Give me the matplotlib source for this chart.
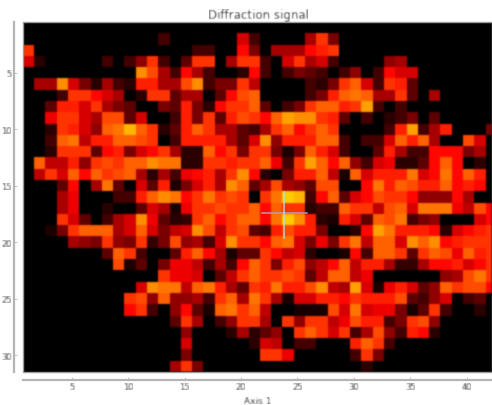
"""Diffraction signal heat map."""

import numpy as np
import matplotlib
matplotlib.use("Agg")
import matplotlib.pyplot as plt
from matplotlib.colors import PowerNorm
from matplotlib.patches import Rectangle

signal = [
    [0,0,0,0,0,0,0,0,0,0, 0,0,0,0,0,0,0,0,0,0, 0,0,0,0,0,0,0,0,0,0, 0,0,0,0,0,0,0,0,0,0, 0,0],
    [0,0,0,0,0,0,0,0,0,0, 0,0,1,0,0,0,0,0,0,4, 1,0,0,0,0,3,6,2,0,0, 0,0,0,0,0,0,0,0,0,0, 0,0],
    [6,0,0,0,0,0,0,0,0,0, 0,0,0,0,0,1,1,0,0,5, 2,0,3,3,3,5,5.5,6,0,0, 0,0,0,0,0,0,0,0,0,0, 0,0],
    [4,0.5,0,0,0,0,0,1,0,1, 2.5,6,1,0,1.5,6,6,0,3,6, 6,1,0,4,6,3,4,1,0,0, 0,0,2.5,3,0,0,0,0,0,0, 0,0],
    [0,0,0,0,0,0,0,0,0,0, 8,6.5,3,1,5,3,1,0,0,0.5, 5,1,0,1,2,1.5,1,0,1,2.5, 0,1,5,4,4,0,0,0,0,0, 0,0],
    [0,3,3,8,4,2,0.5,3,1,0.5, 5.5,5.5,3,3,6.5,8,1,2,2,6, 3.5,0,0,0,0,1,0.5,2,6,7, 4,1,6,5.5,1.5,0,0,0,0,0, 0,0],
    [0,0,0,1,6,6,5,4,3,0, 0.5,6,6,1.5,3,3,0,1.5,5,6.5, 7,0,0,0,0,1,2,5.5,7,7.5, 7,3,3,6,1.5,0,3,0,0,0, 0,0],
    [0,0,1.5,5.5,5.5,4,6,3,2,1.5, 0,0,2,1.5,5.5,2,0.5,5,6,6, 7,1.5,0,1,2,6,7,7,5.5,6, 8.5,1,0,1,0,0,0,0,0,0, 0,0],
    [0,0,4.5,6,6,4,3,6.5,6.5,1.5, 4,0,0,1,5.5,2,6,1.5,5.5,6.5, 6,5,7,8.5,8,8,6,5.5,1.5,0, 1,0,0.5,1,2,0,1.5,0,0,0, 0,0],
    [0,0,0.5,6,5.5,4,2.5,7,7.5,9, 7,6,0.5,1.5,5.5,7,6,3,3,1.5, 1,3,6,7,5,6,7,6,0,0, 0,0,1,5.5,8.5,1,3,5.5,0,0, 0,2],
    [0,0,1,7,7.5,3.5,5.5,5.5,7,7, 6.5,6,0,1,5.5,5.5,5.5,5.5,3,1.5, 4,8,2.5,5.5,5.5,5.5,7,7,1,0, 1,1,4,7,5.5,7,3,0,0,6.5, 4,0],
    [0,0,0.5,6,6,6,1.5,5,5.5,2, 4,5,6,3,0.5,0.5,7,5,6,2, 6,6,2,0.3,2,7,5.5,4,1,0, 0,1.5,5.5,3,1,1,5,5,5,2, 3,0],
    [0,7,3.5,3.5,5.5,2.5,6,6.5,6,7, 7,8,7.5,7.5,0.5,0.5,6,6,5.5,6, 6,7,4.5,1,6,8.5,7,5,7,2.5, 1,4,4.5,0.5,0.5,1.5,5,7,5,0, 0.5,0],
    [0,3.5,6,4,7,5,7,6,6.5,7, 3,0.5,3,1,4.5,5,5.5,3,6,8, 5,0.5,0,2,5.5,5.5,7,3.5,0.3,7, 4,5.5,5.5,5.5,7.5,4,5,7.5,5,7, 5.5,0],
    [0,0,0,1.5,5,0,3,7.5,1.5,0, 4,1.5,5.5,0.3,2,4,5.5,3,8,7, 1.5,3,6.5,3,2.5,1.5,6.5,6.5,0,0, 5,7.5,5.5,7,6.5,5.5,5.5,7,5,5.5, 5,0],
    [0,0,0,3,4.5,0,0,0,1,1, 5.5,7,8,7.5,5,6,7.5,6,6.5,6, 0,6,7.5,9.5,9,1,5,7,1.5,4, 5,6.5,6,6,5,2.5,2.5,2.5,5,3, 0,0],
    [0,0,0,3,4.5,0,0,0.5,0,0, 1.5,4,3,0.3,4.5,6,6,6.5,6,6, 7,5,7,6,6,0.5,1,1,7,6, 6,3.5,6.5,7,4,7.5,7.5,7.5,4.5,3.5, 6.5,5],
    [0,0,0,6,4,1.5,0,1,3,4, 8,4.5,1.5,0.5,0.7,6,7,5,6,7, 7,5,7.5,9.5,8,5.5,0.5,0.3,5.5,4, 1.5,7,6.5,7.5,1,2,2.5,0,0,0, 4,5],
    [0,0,0.3,2,6,7,7,7,3,4, 7,4,2,3.5,4,8,6.5,3.5,6,6.5, 1.5,1,5.5,6.5,5.5,5.5,2,0,0,0.5, 5,8.5,7.5,5.5,5.5,5.5,5,0.5,4,5, 5.5,6],
    [0,0,0,0,3,2.5,2,6,2.5,2, 6,0.7,2,6.5,2.5,3,1,4,8,6, 6,5,7,7.5,4,2,4.5,2,6,7.5, 3.5,7,7,4,8,7,8,5,5.5,6, 6,6],
    [0,0,0,0,0,0,0,1.5,7,6, 1,0,0,1.5,5.5,7,5,3,0.3,1.5, 1.5,6,5,3.5,4,0.5,0,0,0.3,5, 1,7,7,6,1.5,6,7,6.5,4.5,7, 5.5,6],
    [0,0,0,0,0,0,0,0,6.5,0.3, 1.5,0,2,4.5,4.5,3.5,1,3,1,5, 7,6,2,5.5,6.5,2.5,3.5,5,7,3.5, 5.5,5.5,3,0.7,0.7,3,5,5,5.5,4, 5,6],
    [0,0,0,0,0,0,0,0,0,0, 0,0,6,4.5,4.5,4,0,1.5,3.5,6, 7,6,6,6.5,6,1.5,3.5,7,7,3.5, 4.5,0,0,0,0,0,0,2.5,3,6.5, 7.5,6],
    [0,0,0,0,0,0,0,0,0,0, 4,8,7.5,7.5,3.5,7,7.5,5.5,3,1.5, 6,5.5,7.5,5.5,5.5,6.5,8,3.5,3,8.5, 4,0.3,4.5,5.5,4,1.5,2.5,7,6,6.5, 6.5,5],
    [0,0,0,0,0,0,0,0,0,6, 6.5,2.5,7,2.5,2.5,3,1,6,7,3, 7.5,6,3,0.3,4,4,5.5,5.5,5,6, 5.5,5.5,5.5,6.5,1.5,1,2.5,4,0,1, 1.5,0],
    [0,0,0,0,0,0,0,0,0,5, 6,1,0,2.5,5,1.5,0.3,7,7.5,6, 7,3.5,0,0,0.2,0.2,0.2,6.5,4,7.5, 4,4.5,4.5,2,0.2,1.5,6,1,0,0, 0.5,0],
    [0,0,0,0,0,0,0,0,0,0, 0,0,0,1.5,6,3,0,1,2.5,6, 6,3,0,6,2.5,6,6,3.5,4.5,6.5, 5.5,5.5,1,2,6,6.5,2.5,0,0,0, 0,0],
    [0,0,0,0,0,0,0,0,0,0, 0,0,0,0,2.5,0,0,0,0.5,3, 0.5,1.5,2.5,0,6,7,6,4,6,1, 3,6.5,2.5,1,5.5,5,0.5,0,0,0, 0,0],
    [0,0,0,0,0,0,0,0,0,0, 0,0,0,0,4,0,0,0,0,0, 0.5,4,3.5,0,1,1,0,0,0,5.5, 7,6,1,0,0,0,0,0,0,0, 0,0],
    [0,0,0,0,0,0,0,0,0,0, 0,0,0,0,2,0,0,0,0,0, 0,6,6,4.5,0,0,0,0,0,1, 6,2,0,0,0,0,0,0,0,0, 0,0],
    [0,0,0,0,0,0,0,0,0,0, 0,0,0,3,6,2,0,0,0,0, 0,0,0,0,0,0,0,0,0,0, 0.5,0,0,0,0,0,0,0,0,0, 0,0],
]
tick_positions_x = [5, 10, 15, 20, 25, 30, 35, 40]
tick_positions_y = [5, 10, 15, 20, 25, 30]
cross_x = [21.86, 25.85]
cross_y = [15.55, 19.63]
cross_center = (23.81, 17.41)

GREY = "#b4b4b4"
TEXT = "#111111"
KERNEL = np.array([0.12, 0.76, 0.12])


def soften(img, dpi):
    # the reference is a slightly upscaled screenshot, so everything is a bit fuzzy
    out = img
    for _ in range(3):
        for axis in (0, 1):
            out = np.apply_along_axis(lambda m: np.convolve(m, KERNEL, mode="same"), axis, out)
    return out, 0, 0


def main() -> None:
    fig = plt.figure(figsize=(4.92, 4.06), dpi=100)
    ax = fig.add_axes([23 / 492, 1 - 373 / 406, 469 / 492, 350 / 406])
    ax.set_facecolor("black")
    data = np.ma.masked_equal(np.array(signal, dtype=float), 0)
    cmap = plt.get_cmap("hot").with_extremes(bad="black")
    im = ax.imshow(data, cmap=cmap, norm=PowerNorm(0.9, vmin=0, vmax=14.8), aspect="auto",
                   interpolation="nearest", extent=(0.68, 42.68, 31.5, 0.5))
    im.set_agg_filter(soften)
    ax.set_xlim(0.685, 42.24)
    ax.set_ylim(31.5, 0.48)

    # thin frame around the image, the axis lines themselves sit further out
    ax.add_patch(Rectangle((0, 0), 1, 1, transform=ax.transAxes, fill=False, ec="#9a9a9a", lw=1, clip_on=False))
    ax.plot(cross_x, [cross_center[1]] * 2, color="#a8a8d0", lw=1.1, alpha=0.9)
    ax.plot([cross_center[0]] * 2, cross_y, color="#aee0ee", lw=1.1, alpha=0.9)

    for side in ("top", "right"):
        ax.spines[side].set_visible(False)
    ax.spines["left"].set_position(("outward", 6.8))
    ax.spines["bottom"].set_position(("outward", 5.8))
    for side in ("left", "bottom"):
        ax.spines[side].set_color(GREY)
        ax.spines[side].set_linewidth(1.6)

    ax.set_xticks(tick_positions_x)
    ax.set_yticks(tick_positions_y)
    ax.tick_params(axis="both", direction="in", length=2, width=0.6, color=GREY,
                   labelsize=6, labelcolor=TEXT, pad=1.5)
    ax.set_xlabel("Axis 1", fontsize=6.5, color=TEXT, labelpad=3.2)
    ax.set_title("Diffraction signal", fontsize=8.5, color=TEXT, pad=3, x=0.503)
    for label in ax.get_xticklabels() + ax.get_yticklabels() + [ax.title, ax.xaxis.label]:
        label.set_agg_filter(soften)

    fig.savefig("out.png", dpi=100)
    plt.close(fig)


if __name__ == "__main__":
    main()
